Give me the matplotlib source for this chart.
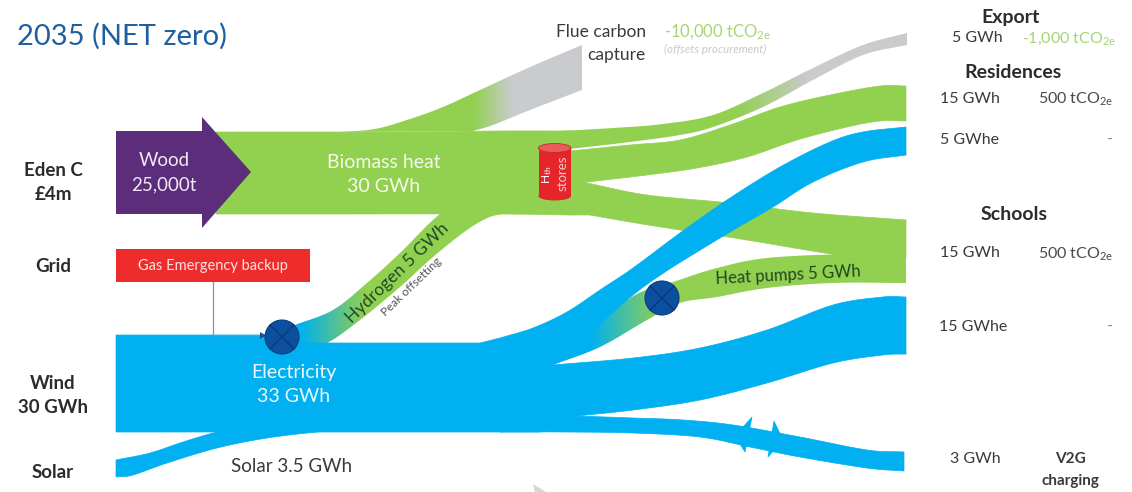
import numpy as np
import matplotlib
matplotlib.use("Agg")
import matplotlib.pyplot as plt
from matplotlib.colors import LinearSegmentedColormap
from matplotlib.patches import Polygon, Rectangle, Circle, Ellipse

plt.rcParams["font.family"] = ["Lato", "DejaVu Sans"]
plt.rcParams["mathtext.default"] = "regular"

GREEN = "#92D050"
BLUE = "#00B0F0"
GREY = "#C9CBCD"
PURPLE = "#5C2D7A"
RED = "#EE2C2C"
NAVY = "#0B4F9E"
INK = "#3A3A3A"
LABEL_GREEN = "#A5D676"

# Ribbon outlines of the energy flows: knots along the upper and lower edge
trunk_green_top = [(216, 132), (300, 132), (400, 132), (500, 131), (571, 131)]
trunk_green_bot = [(216, 214), (330, 214), (497, 214), (571, 215)]
flue_top = [(340, 132), (375, 129), (410, 119), (443, 107), (480, 90), (530, 67), (582, 45)]
flue_bot = [(473, 131), (493, 125), (530, 110), (582, 90)]
export_top = [(560, 131), (613, 128), (663, 124), (713, 115), (763, 93), (813, 68), (863, 45), (907, 33)]
export_bot = [(570, 149), (630, 142), (680, 135), (713, 127), (763, 107), (813, 80), (863, 55), (907, 45)]
resid_top = [(570, 151), (630, 145), (680, 140), (730, 125), (780, 107), (830, 95), (880, 86), (906, 86)]
resid_bot = [(587, 182), (647, 175), (697, 168), (747, 157), (797, 140), (847, 127), (880, 121), (906, 121)]
school_top = [(587, 183), (647, 195), (730, 203), (813, 213), (906, 220)]
school_bot = [(590, 215), (630, 222), (680, 230), (728, 237), (753, 241), (847, 256), (906, 258)]
store_wedge = [(570, 151), (570, 215), (590, 215), (587, 183)]
pump_top = [(560, 345), (600, 320), (637, 294), (673, 282), (717, 268), (767, 258), (847, 254), (906, 254)]
pump_bot = [(553, 365), (600, 347), (647, 320), (680, 303), (717, 297), (767, 288), (833, 283), (906, 283)]
hydro_top = [(270, 336), (295, 325), (333, 310), (367, 283), (400, 253), (440, 214), (470, 200)]
hydro_bot = [(300, 350), (327, 343), (360, 320), (400, 287), (433, 257), (467, 230), (490, 217), (510, 213)]
grid_block = [(116, 335), (275, 335), (300, 343), (480, 343), (500, 338), (553, 365),
              (577, 416), (540, 432), (116, 432)]
solar_top = [(116, 460), (150, 453), (183, 442), (217, 432), (240, 428)]
solar_bot = [(116, 477), (133, 475), (167, 463), (217, 448), (267, 438), (317, 432), (340, 431)]
elec_top = [(500, 338), (533, 328), (567, 312), (600, 290), (633, 268), (680, 233), (727, 200), (780, 167), (830, 142), (863, 132), (906, 127)]
elec_bot = [(553, 365), (593, 330), (633, 295), (665, 272), (697, 252), (735, 229), (773, 207), (813, 182), (863, 162), (906, 155)]
wind_top = [(553, 365), (633, 358), (700, 348), (767, 330), (833, 305), (883, 297), (906, 297)]
wind_bot = [(577, 416), (633, 410), (700, 400), (767, 383), (833, 363), (883, 355), (906, 354)]
v2g_top = [(577, 416), (633, 418), (683, 420), (733, 425), (800, 437), (867, 450), (904, 452)]
v2g_bot = [(500, 432), (567, 432), (633, 433), (700, 437), (750, 447), (800, 457), (867, 468), (904, 471)]
v2g_left_chevron = [(735, 436), (752, 417), (745, 452)]
v2g_right_chevron = [(783, 440), (774, 421), (768, 457)]

# Labels, in drawing groups
source_labels = ["Eden C\n£4m", "Grid", "Wind\n30 GWh", "Solar"]
destination_heads = ["Export", "Residences", "Schools"]
destination_loads = ["5 GWh", "15 GWh", "5 GWhe", "15 GWh", "15 GWhe", "3 GWh"]
destination_carbon = ["500 tCO$_{2e}$", "-", "500 tCO$_{2e}$", "-"]


def smooth(knots, n=24):
    """Catmull-Rom curve through the knots."""
    p = np.asarray(knots, float)
    q = np.vstack([2 * p[0] - p[1], p, 2 * p[-1] - p[-2]])
    out = []
    for i in range(1, len(q) - 2):
        t = np.linspace(0, 1, n, endpoint=False)[:, None]
        a, b, c, d = q[i - 1], q[i], q[i + 1], q[i + 2]
        out.append(0.5 * (2 * b + (c - a) * t + (2 * a - 5 * b + 4 * c - d) * t ** 2
                          + (3 * b - a - 3 * c + d) * t ** 3))
    out.append(p[-1:])
    return np.vstack(out)


fig = plt.figure(figsize=(11.32, 4.92), dpi=100)
ax = fig.add_axes([0, 0, 1, 1])


def block(points, colour, zorder=2):
    """Flat-coloured polygon; a hairline edge closes seams against neighbouring pieces."""
    ax.add_patch(Polygon(points, closed=True, fc=colour, ec=colour, lw=0.5, zorder=zorder))


def ribbon(top, bottom, colour=None, fade=None, zorder=2):
    """Fill between two edges; fade=(x0, x1, left colour, right colour) shades it along x."""
    outline = np.vstack([smooth(top), smooth(bottom)[::-1]])
    if colour:
        block(outline, colour, zorder)
    if fade:
        patch = Polygon(outline, closed=True, lw=0, fc="none", zorder=zorder)
        ax.add_patch(patch)
        x0, x1, c0, c1 = fade
        cmap = LinearSegmentedColormap.from_list("fade", [c0, c1])
        lo, hi = outline[:, 0].min(), outline[:, 0].max()
        xs = np.linspace(lo, hi, 400)
        shade = np.clip((xs - x0) / (x1 - x0), 0, 1)[None, :]
        im = ax.imshow(shade, cmap=cmap, vmin=0, vmax=1, aspect="auto", zorder=zorder,
                       extent=(lo, hi, outline[:, 1].max(), outline[:, 1].min()))
        im.set_clip_path(patch)


# Heat network
ribbon(flue_top, flue_bot, fade=(473, 512, GREEN, GREY))
ribbon(export_top, export_bot, fade=(735, 810, GREEN, GREY))
ribbon(trunk_green_top, trunk_green_bot, GREEN)
ribbon(resid_top, resid_bot, GREEN)
ribbon(school_top, school_bot, GREEN)
block(store_wedge, GREEN)

# Electricity network
ribbon(hydro_top, hydro_bot, fade=(300, 365, BLUE, GREEN))
ribbon(pump_top, pump_bot, fade=(590, 660, BLUE, GREEN))
ribbon(elec_top, elec_bot, BLUE, zorder=3)
ribbon(wind_top, wind_bot, BLUE, zorder=3)
ribbon(v2g_top, v2g_bot, BLUE, zorder=3)
block(grid_block, BLUE, zorder=3)
ribbon(solar_top, solar_bot, BLUE, zorder=3)

# Vehicle-to-grid chevrons
block(v2g_left_chevron, BLUE, zorder=4)
block(v2g_right_chevron, BLUE, zorder=4)

# Wood input arrow
ax.add_patch(Polygon([(116, 131), (202, 131), (202, 117), (251, 172), (202, 228), (202, 214), (116, 214)],
                     lw=0, fc=PURPLE, zorder=5))

# Backup box and its feed
ax.add_patch(Rectangle((116, 249), 194, 33, lw=0, fc=RED, zorder=5))
ax.plot([213, 213, 262], [282, 335, 335], color="#7D93B5", lw=0.9, zorder=6)
ax.add_patch(Polygon([(260, 332), (266, 335.5), (260, 339)], lw=0, fc="#1F4E8C", zorder=6))

# Converters
for cx, cy in [(282, 337), (662, 298)]:
    ax.add_patch(Circle((cx, cy), 17, fc=NAVY, ec="#0A3F80", lw=0.8, zorder=7))
    d = 17 * np.sqrt(0.5)
    ax.plot([cx - d, cx + d], [cy - d, cy + d], color="#0A3670", lw=0.8, zorder=8)
    ax.plot([cx - d, cx + d], [cy + d, cy - d], color="#0A3670", lw=0.8, zorder=8)

# Thermal store cylinder
ax.add_patch(Rectangle((538.5, 148), 32.5, 48, lw=0, fc="#E4262A", zorder=6))
ax.add_patch(Ellipse((554.7, 196), 32.5, 9, lw=0, fc="#E4262A", zorder=6))
ax.add_patch(Ellipse((554.7, 148), 32.5, 9, fc="#EC5A5C", ec="#C9282A", lw=0.6, zorder=7))

# Stray slide corner at the bottom edge
ax.add_patch(Polygon([(533, 484), (546, 492), (535, 492)], lw=0, fc="#D6D6D6", zorder=1))


def put(x, y, s, size=12.5, colour=INK, weight="normal", ha="center", **kw):
    ax.text(x, y, s, fontsize=size, color=colour, fontweight=weight, ha=ha, va="center",
            zorder=10, **kw)


put(17, 36, "2035 (NET zero)", size=21, colour="#1F5F9E", ha="left")

# Sources
for (x, y), s in zip([(53, 183), (53, 266), (53, 395.5), (53, 472)], source_labels):
    put(x, y, s, size=13.5, weight="bold", colour="#2B2B2B", linespacing=1.5)

# Labels on the flows
put(164, 173, "Wood\n25,000t", colour="#F0E8F4", size=13.5, linespacing=1.55)
put(384, 174, "Biomass heat\n30 GWh", colour="#F3FAE9", size=14, linespacing=1.5)
put(213, 266, "Gas Emergency backup", colour="#FBE3E3", size=10.5)
put(294, 384.5, "Electricity\n33 GWh", colour="#E8F8FE", size=14, linespacing=1.45)
put(292, 467, "Solar 3.5 GWh", size=13.5)
put(397, 273, "Hydrogen 5 GWh", size=12.5, colour="#1E4A26", rotation=44, rotation_mode="anchor")
put(411, 287, "Peak offsetting", size=8.5, colour="#555555", rotation=44, rotation_mode="anchor")
put(788, 275, "Heat pumps 5 GWh", size=12, colour="#21451F", rotation=3, rotation_mode="anchor")
put(547, 175, "H$_{th}$", size=8.5, colour="white", rotation=90)
put(563, 173, "stores", size=9.5, colour="#F6C7C7", rotation=90)

# Capture labels
put(646, 32, "Flue carbon", ha="right", size=12.5)
put(646, 55, "capture", ha="right", size=12.5)
put(664, 32, "-10,000 tCO$_{2e}$", ha="left", colour=LABEL_GREEN, size=12)
put(664, 49, "(offsets procurement)", ha="left", colour="#C9C9C9", size=8.3, style="italic")

# Destinations
for (x, y), s in zip([(1011, 17), (1013, 72), (1014, 214)], destination_heads):
    put(x, y, s, weight="bold", size=14, colour="#2B2B2B")
for (x, y), s in zip([(977, 38), (970, 99), (970, 140), (970, 253), (973, 327), (975, 459)], destination_loads):
    put(x, y, s, size=11.5)
for (x, y), s in zip([(1076, 99), (1110, 140), (1076, 254), (1110, 327)], destination_carbon):
    put(x, y, s, size=11.5, colour="#4A4A4A" if s != "-" else "#8A8A8A")
put(1069, 39, "-1,000 tCO$_{2e}$", size=11.5, colour=LABEL_GREEN)
put(1070, 470, "V2G\ncharging", weight="bold", size=11, linespacing=1.7)

ax.set_xlim(0, 1132)
ax.set_ylim(492, 0)
ax.axis("off")
fig.savefig("out.png", dpi=100, facecolor="white")
